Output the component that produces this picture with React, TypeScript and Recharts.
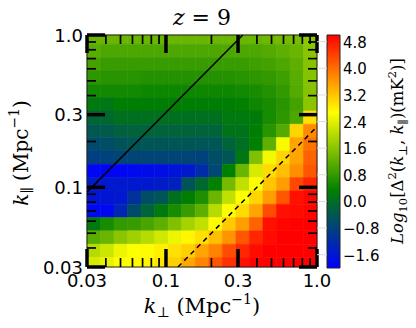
import { ScatterChart, Scatter, XAxis, YAxis, ReferenceArea } from 'recharts'

// bin edges of the 2D power spectrum (Mpc^-1)
const kPerpEdges = [0.03, 0.0369, 0.0453, 0.0557, 0.0684, 0.0841, 0.1034, 0.1271, 0.1562, 0.192, 0.236, 0.2901, 0.3566, 0.4383, 0.5387, 0.6622, 0.814, 1.0]
const kParEdges = [1.0, 0.869, 0.7101, 0.5808, 0.4748, 0.3882, 0.3172, 0.2594, 0.212, 0.1734, 0.1417, 0.1159, 0.0947, 0.0774, 0.0633, 0.0518, 0.0423, 0.0346, 0.03]

// log10 Δ²(k⊥,k∥) in mK², rows from k∥ = 1 downwards, columns k⊥ left to right
const logPower = [
  [1.3, 1.3, 1.3, 1.3, 1.3, 1.3, 1.3, 1.3, 1.3, 1.3, 1.3, 1.3, 1.3, 1.35, 1.4, 1.45, 1.65],
  [1.15, 1.05, 1.05, 1.05, 1.05, 1.05, 1.05, 1.05, 1.05, 1.05, 1.05, 1.05, 1.05, 1.1, 1.2, 1.3, 1.6],
  [0.95, 0.85, 0.85, 0.85, 0.85, 0.85, 0.85, 0.85, 0.85, 0.85, 0.85, 0.85, 0.9, 0.95, 1.05, 1.2, 1.55],
  [0.75, 0.7, 0.7, 0.7, 0.65, 0.65, 0.65, 0.65, 0.65, 0.65, 0.65, 0.7, 0.75, 0.8, 0.9, 1.15, 1.55],
  [0.5, 0.5, 0.5, 0.5, 0.45, 0.45, 0.45, 0.45, 0.45, 0.45, 0.45, 0.5, 0.55, 0.65, 0.8, 1.1, 1.55],
  [0.2, 0.15, 0.3, 0.3, 0.3, 0.3, 0.3, 0.3, 0.3, 0.3, 0.3, 0.35, 0.45, 0.55, 0.7, 0.95, 1.6],
  [-0.15, -0.1, 0.05, 0.05, 0.05, 0.05, 0.05, 0.05, 0.05, 0.05, 0.2, 0.2, 0.25, 0.55, 0.75, 1.05, 2.95],
  [-0.4, -0.35, -0.25, -0.2, -0.2, -0.2, -0.2, -0.2, -0.2, -0.2, 0.1, 0.1, 0.3, 0.7, 1.1, 3.05, 3.75],
  [-0.65, -0.6, -0.5, -0.45, -0.45, -0.45, -0.45, -0.45, -0.45, -0.45, -0.2, 0.0, 0.33, 1.2, 2.6, 3.5, 3.95],
  [-0.85, -0.8, -0.75, -0.75, -0.75, -0.75, -0.75, -0.75, -0.8, -0.6, -0.45, 0.15, 1.5, 2.55, 3.05, 3.5, 4.1],
  [-1.9, -1.9, -1.9, -1.85, -1.8, -1.75, -1.65, -1.55, -1.2, -0.7, 0.33, 1.3, 2.3, 3.0, 3.25, 3.7, 4.2],
  [-1.5, -1.55, -1.55, -1.55, -1.55, -1.5, -1.4, -0.5, -0.1, 0.35, 1.4, 2.1, 2.65, 3.2, 3.55, 4.35, 4.65],
  [-1.6, -1.6, -1.55, -1.1, -0.6, -0.45, 0.05, 0.3, 0.6, 1.3, 2.1, 2.65, 3.05, 3.55, 4.2, 4.85, 4.95],
  [-1.85, -1.85, -1.3, -0.65, -0.2, 0.2, 0.55, 0.85, 1.2, 2.0, 2.65, 3.0, 3.5, 4.3, 4.85, 4.9, 4.95],
  [0.2, 0.55, 0.8, 0.85, 1.0, 1.2, 1.5, 1.85, 2.1, 2.7, 3.15, 3.55, 4.1, 4.85, 4.95, 5.0, 5.0],
  [1.15, 1.3, 1.6, 1.8, 2.0, 2.25, 2.5, 2.75, 2.95, 3.25, 3.65, 4.2, 4.65, 4.9, 5.0, 5.0, 5.0],
  [2.0, 2.2, 2.5, 2.65, 2.7, 2.8, 2.95, 3.1, 3.5, 3.8, 4.3, 4.65, 4.9, 5.0, 5.0, 5.0, 5.0],
  [2.3, 2.45, 2.65, 2.7, 2.75, 2.9, 3.1, 3.45, 3.8, 4.2, 4.55, 4.85, 5.0, 5.0, 5.0, 5.0, 5.0],
]

const majorTicks = [0.03, 0.1, 0.3, 1.0]
const majorLabels = ['0.03', '0.1', '0.3', '1.0']
const minorTicks = [0.04, 0.05, 0.06, 0.07, 0.08, 0.09, 0.2, 0.4, 0.5, 0.6, 0.7, 0.8, 0.9]
const allTicks = [...majorTicks, ...minorTicks].sort((a, b) => a - b)

const cbarTicks = [-1.6, -0.8, 0.0, 0.8, 1.6, 2.4, 3.2, 4.0, 4.8]
const cbarLabels = ['−1.6', '−0.8', '0.0', '0.8', '1.6', '2.4', '3.2', '4.0', '4.8']

// horizon line (solid) and window line (dashed)
const horizonLine = [{ x: 0.03, y: 0.093 }, { x: 0.3226, y: 1.0 }]
const windowLine = [{ x: 0.12, y: 0.03 }, { x: 1.0, y: 0.25 }]

const VMIN = -2
const VMAX = 5
const stops: [number, number, number][] = [[0, 0, 255], [0, 128, 0], [255, 255, 0], [255, 0, 0]]

function colorOf(v: number) {
  const t = Math.min(1, Math.max(0, (v - VMIN) / (VMAX - VMIN))) * 3
  const i = Math.min(2, Math.floor(t))
  const f = t - i
  const a = stops[i], b = stops[i + 1]
  const c = a.map((ch, k) => Math.round(ch + (b[k] - ch) * f))
  return `rgb(${c[0]},${c[1]},${c[2]})`
}

const MAJ = 18
const MIN = 9
const MAJ_W = 3.5
const MIN_W = 1.7
const tickFont = { fontFamily: 'DejaVu Sans', fontSize: 18, fill: '#000' }

const majIndex = (v: number) => majorTicks.findIndex((t) => Math.abs(t - v) < 1e-9)

function BottomTick({ x, y, payload }: any) {
  const i = majIndex(payload.value)
  const m = i >= 0
  return (
    <g>
      <line x1={x} x2={x} y1={y} y2={y - (m ? MAJ : MIN)} stroke="#000" strokeWidth={m ? MAJ_W : MIN_W} />
      {m && <text x={x} y={y + 20} textAnchor="middle" {...tickFont}>{majorLabels[i]}</text>}
    </g>
  )
}
function TopTick({ x, y, payload }: any) {
  const m = majIndex(payload.value) >= 0
  return <line x1={x} x2={x} y1={y} y2={y + (m ? MAJ : MIN)} stroke="#000" strokeWidth={m ? MAJ_W : MIN_W} />
}
function LeftTick({ x, y, payload }: any) {
  const i = majIndex(payload.value)
  const m = i >= 0
  return (
    <g>
      <line x1={x} x2={x + (m ? MAJ : MIN)} y1={y} y2={y} stroke="#000" strokeWidth={m ? MAJ_W : MIN_W} />
      {m && <text x={x - 4} y={y + 6.5} textAnchor="end" {...tickFont}>{majorLabels[i]}</text>}
    </g>
  )
}
function RightTick({ x, y, payload }: any) {
  const m = majIndex(payload.value) >= 0
  return <line x1={x} x2={x - (m ? MAJ : MIN)} y1={y} y2={y} stroke="#000" strokeWidth={m ? MAJ_W : MIN_W} />
}
function CbarTick({ x, y, payload }: any) {
  const i = cbarTicks.findIndex((t) => Math.abs(t - payload.value) < 1e-9)
  return (
    <text x={x + 3} y={y + 6} fontFamily="DejaVu Sans" fontSize={15} fill="#000">
      {cbarLabels[i]}
    </text>
  )
}
// faint guide marks left of the colour bar
function CbarGuide({ x, y }: any) {
  return <line x1={x - 10} x2={x} y1={y} y2={y} stroke="#dcdcdc" strokeWidth={1} />
}

const cells = logPower.flatMap((row, r) =>
  row.map((v, c) => ({
    x1: kPerpEdges[c],
    x2: kPerpEdges[c + 1],
    y1: kParEdges[r + 1],
    y2: kParEdges[r],
    fill: colorOf(v),
  })),
)

const cbarPoints = cbarTicks.map((v) => ({ x: 0.5, y: v }))

const serif = 'DejaVu Serif'
const noDot = () => null

export default function App() {
  const logAxis = {
    type: 'number' as const,
    scale: 'log' as const,
    domain: [0.03, 1] as [number, number],
    allowDataOverflow: true,
    ticks: allTicks,
    interval: 0 as const,
    tickSize: 0,
    tickMargin: 0,
    tickLine: false,
    axisLine: { stroke: '#222', strokeWidth: 1 },
  }
  const cbarAxis = {
    dataKey: 'y',
    type: 'number' as const,
    domain: [VMIN, VMAX] as [number, number],
    allowDataOverflow: true,
    ticks: cbarTicks,
    interval: 0 as const,
    tickSize: 0,
    tickMargin: 0,
    tickLine: false,
    axisLine: false,
  }
  return (
    <div style={{ position: 'absolute', left: 0, top: 0, width: 416, height: 328, background: '#fff' }}>
      <svg width={0} height={0} style={{ position: 'absolute' }}>
        <defs>
          <linearGradient id="cbar" x1="0" y1="1" x2="0" y2="0">
            <stop offset="0" stopColor="rgb(0,0,255)" />
            <stop offset="0.3333" stopColor="rgb(0,128,0)" />
            <stop offset="0.6667" stopColor="rgb(255,255,0)" />
            <stop offset="1" stopColor="rgb(255,0,0)" />
          </linearGradient>
        </defs>
      </svg>
      <div style={{ position: 'absolute', left: 0, top: 0 }}>
        <ScatterChart width={416} height={328} margin={{ top: 30, right: 94, bottom: 31, left: 47 }}>
          <XAxis xAxisId="b" dataKey="x" orientation="bottom" height={30} {...logAxis} tick={<BottomTick />} />
          <XAxis xAxisId="t" dataKey="x" orientation="top" height={5} {...logAxis} tick={<TopTick />} />
          <YAxis yAxisId="l" dataKey="y" orientation="left" width={40} {...logAxis} tick={<LeftTick />} />
          <YAxis yAxisId="r" dataKey="y" orientation="right" width={5} {...logAxis} tick={<RightTick />} />
          {cells.map((c, i) => (
            <ReferenceArea
              key={i}
              xAxisId="b"
              yAxisId="l"
              x1={c.x1}
              x2={c.x2}
              y1={c.y1}
              y2={c.y2}
              fill={c.fill}
              fillOpacity={1}
              stroke={c.fill}
              strokeWidth={0.6}
              ifOverflow="visible"
            />
          ))}
          <Scatter
            xAxisId="b"
            yAxisId="l"
            data={horizonLine}
            shape={noDot}
            line={{ stroke: '#000', strokeWidth: 1.5 }}
            isAnimationActive={false}
          />
          <Scatter
            xAxisId="b"
            yAxisId="l"
            data={windowLine}
            shape={noDot}
            line={{ stroke: '#000', strokeWidth: 1.5, strokeDasharray: '5 4' }}
            isAnimationActive={false}
          />
        </ScatterChart>
      </div>
      <div style={{ position: 'absolute', left: 0, top: 0 }}>
        <ScatterChart width={416} height={328} margin={{ top: 35, right: 36, bottom: 60, left: 317 }}>
          <XAxis xAxisId="c" dataKey="x" type="number" domain={[0, 1]} allowDataOverflow hide />
          <YAxis yAxisId="cl" orientation="left" width={10} {...cbarAxis} tick={<CbarGuide />} />
          <YAxis yAxisId="cr" orientation="right" width={40} {...cbarAxis} tick={<CbarTick />} />
          <ReferenceArea
            xAxisId="c"
            yAxisId="cr"
            x1={0}
            x2={1}
            y1={VMIN}
            y2={VMAX}
            fill="url(#cbar)"
            fillOpacity={1}
            stroke="#222"
            strokeWidth={1}
            ifOverflow="visible"
          />
          <Scatter xAxisId="c" yAxisId="cr" data={cbarPoints} shape={noDot} isAnimationActive={false} />
          <Scatter xAxisId="c" yAxisId="cl" data={cbarPoints} shape={noDot} isAnimationActive={false} />
        </ScatterChart>
      </div>
      <svg width={416} height={328} style={{ position: 'absolute', left: 0, top: 0, pointerEvents: 'none' }}>
        <text x={202} y={25} textAnchor="middle" fontFamily={serif} fontSize={22} fill="#000">
          <tspan fontStyle="italic">z</tspan> = 9
        </text>
        <text x={202} y={313} textAnchor="middle" fontFamily={serif} fontSize={21} fill="#000">
          <tspan fontStyle="italic">k</tspan>
          <tspan fontSize={14} dy={4}>⊥</tspan>
          <tspan dy={-4}> (Mpc</tspan>
          <tspan fontSize={14} dy={-9}>−1</tspan>
          <tspan dy={9}>)</tspan>
        </text>
        <text transform="translate(28,153) rotate(-90)" textAnchor="middle" fontFamily={serif} fontSize={20} fill="#000">
          <tspan fontStyle="italic">k</tspan>
          <tspan fontSize={14} dy={4}>∥</tspan>
          <tspan dy={-4}> (Mpc</tspan>
          <tspan fontSize={14} dy={-9}>−1</tspan>
          <tspan dy={9}>)</tspan>
        </text>
        <text transform="translate(403,151) rotate(-90)" textAnchor="middle" fontFamily={serif} fontSize={16.5} fill="#000">
          <tspan fontStyle="italic">Log</tspan>
          <tspan fontSize={11.5} dy={4}>10</tspan>
          <tspan dy={-4}>[Δ</tspan>
          <tspan fontSize={11.5} dy={-7}>2</tspan>
          <tspan dy={7}>(</tspan>
          <tspan fontStyle="italic">k</tspan>
          <tspan fontSize={11.5} dy={4}>⊥</tspan>
          <tspan dy={-4}>, </tspan>
          <tspan fontStyle="italic">k</tspan>
          <tspan fontSize={11.5} dy={4}>∥</tspan>
          <tspan dy={-4}>)(mK</tspan>
          <tspan fontSize={11.5} dy={-7}>2</tspan>
          <tspan dy={7}>)]</tspan>
        </text>
      </svg>
    </div>
  )
}
